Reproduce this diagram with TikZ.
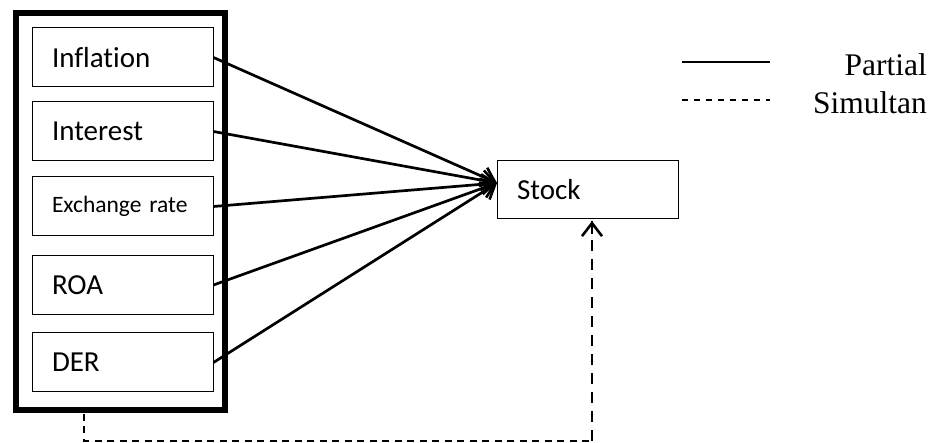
\documentclass[tikz,border=0pt]{standalone}
\usepackage{fontspec}
\setmainfont{Liberation Serif}
\newfontfamily\boxfont[Ligatures=NoCommon]{Carlito}
\usetikzlibrary{arrows.meta}
\tikzset{
  varbox/.style={draw, line width=1pt, minimum width=181pt, minimum height=59pt,
    inner xsep=20pt, text width=141pt, align=left, font=\boxfont\fontsize{29}{32}\selectfont},
  conn/.style={line width=2.7pt, -{Straight Barb[length=13pt,width=20pt,line width=2.6pt]}},
  simul/.style={line width=2.2pt, dash pattern=on 7pt off 5.5pt},
  simulv/.style={line width=2.3pt, dash pattern=on 11pt off 8pt},
  legtext/.style={font=\fontsize{31.5}{34}\selectfont, anchor=base east, inner sep=0pt}
}
\begin{document}
\begin{tikzpicture}[x=1pt,y=-1pt]
\useasboundingbox (0,0) rectangle (940,443);
\node[draw, line width=5.5pt, minimum width=209pt, minimum height=397pt, inner sep=0pt] (outer) at (120.5,211.7) {};
\node[varbox] (inf) at (122.5,57.5) {Inflation};
\node[varbox] (int) at (122.5,131.5) {Interest};
\node[varbox, font=\boxfont\fontsize{23.5}{26}\selectfont] (exr) at (122.5,206.5) {Exchange rate};
\node[varbox] (roa) at (122.5,285) {ROA};
\node[varbox] (der) at (122.5,362.5) {DER};
\node[varbox, minimum width=181pt, minimum height=58pt] (stock) at (587.5,190) {Stock};
\coordinate (tip) at (497,183);
\coordinate (d1) at (84,414);
\coordinate (d2) at (84,441);
\coordinate (d3) at (592,441);
\coordinate (d4) at (592,221);
\foreach \n in {inf,int,exr,roa,der} \draw[conn] (\n.east) -- (tip);
\draw[simul] (d1) -- (d2) -- (d3);
\draw[simulv] (d3) -- (d4);
\coordinate (d5) at (592,234);
\draw[line width=2.3pt, -{Straight Barb[length=13pt,width=20pt,line width=2.6pt]}] (d5) -- (d4);
\coordinate (l1a) at (682,62);
\coordinate (l1b) at (770,62);
\coordinate (l2a) at (682,100);
\coordinate (l2b) at (770,100);
\draw[line width=1.8pt] (l1a) -- (l1b);
\draw[line width=1.3pt, dash pattern=on 6pt off 6pt] (l2a) -- (l2b);
\node[legtext] (lp) at (927,76) {Partial};
\node[legtext] (ls) at (927,114) {Simultan};
\end{tikzpicture}
\end{document}
